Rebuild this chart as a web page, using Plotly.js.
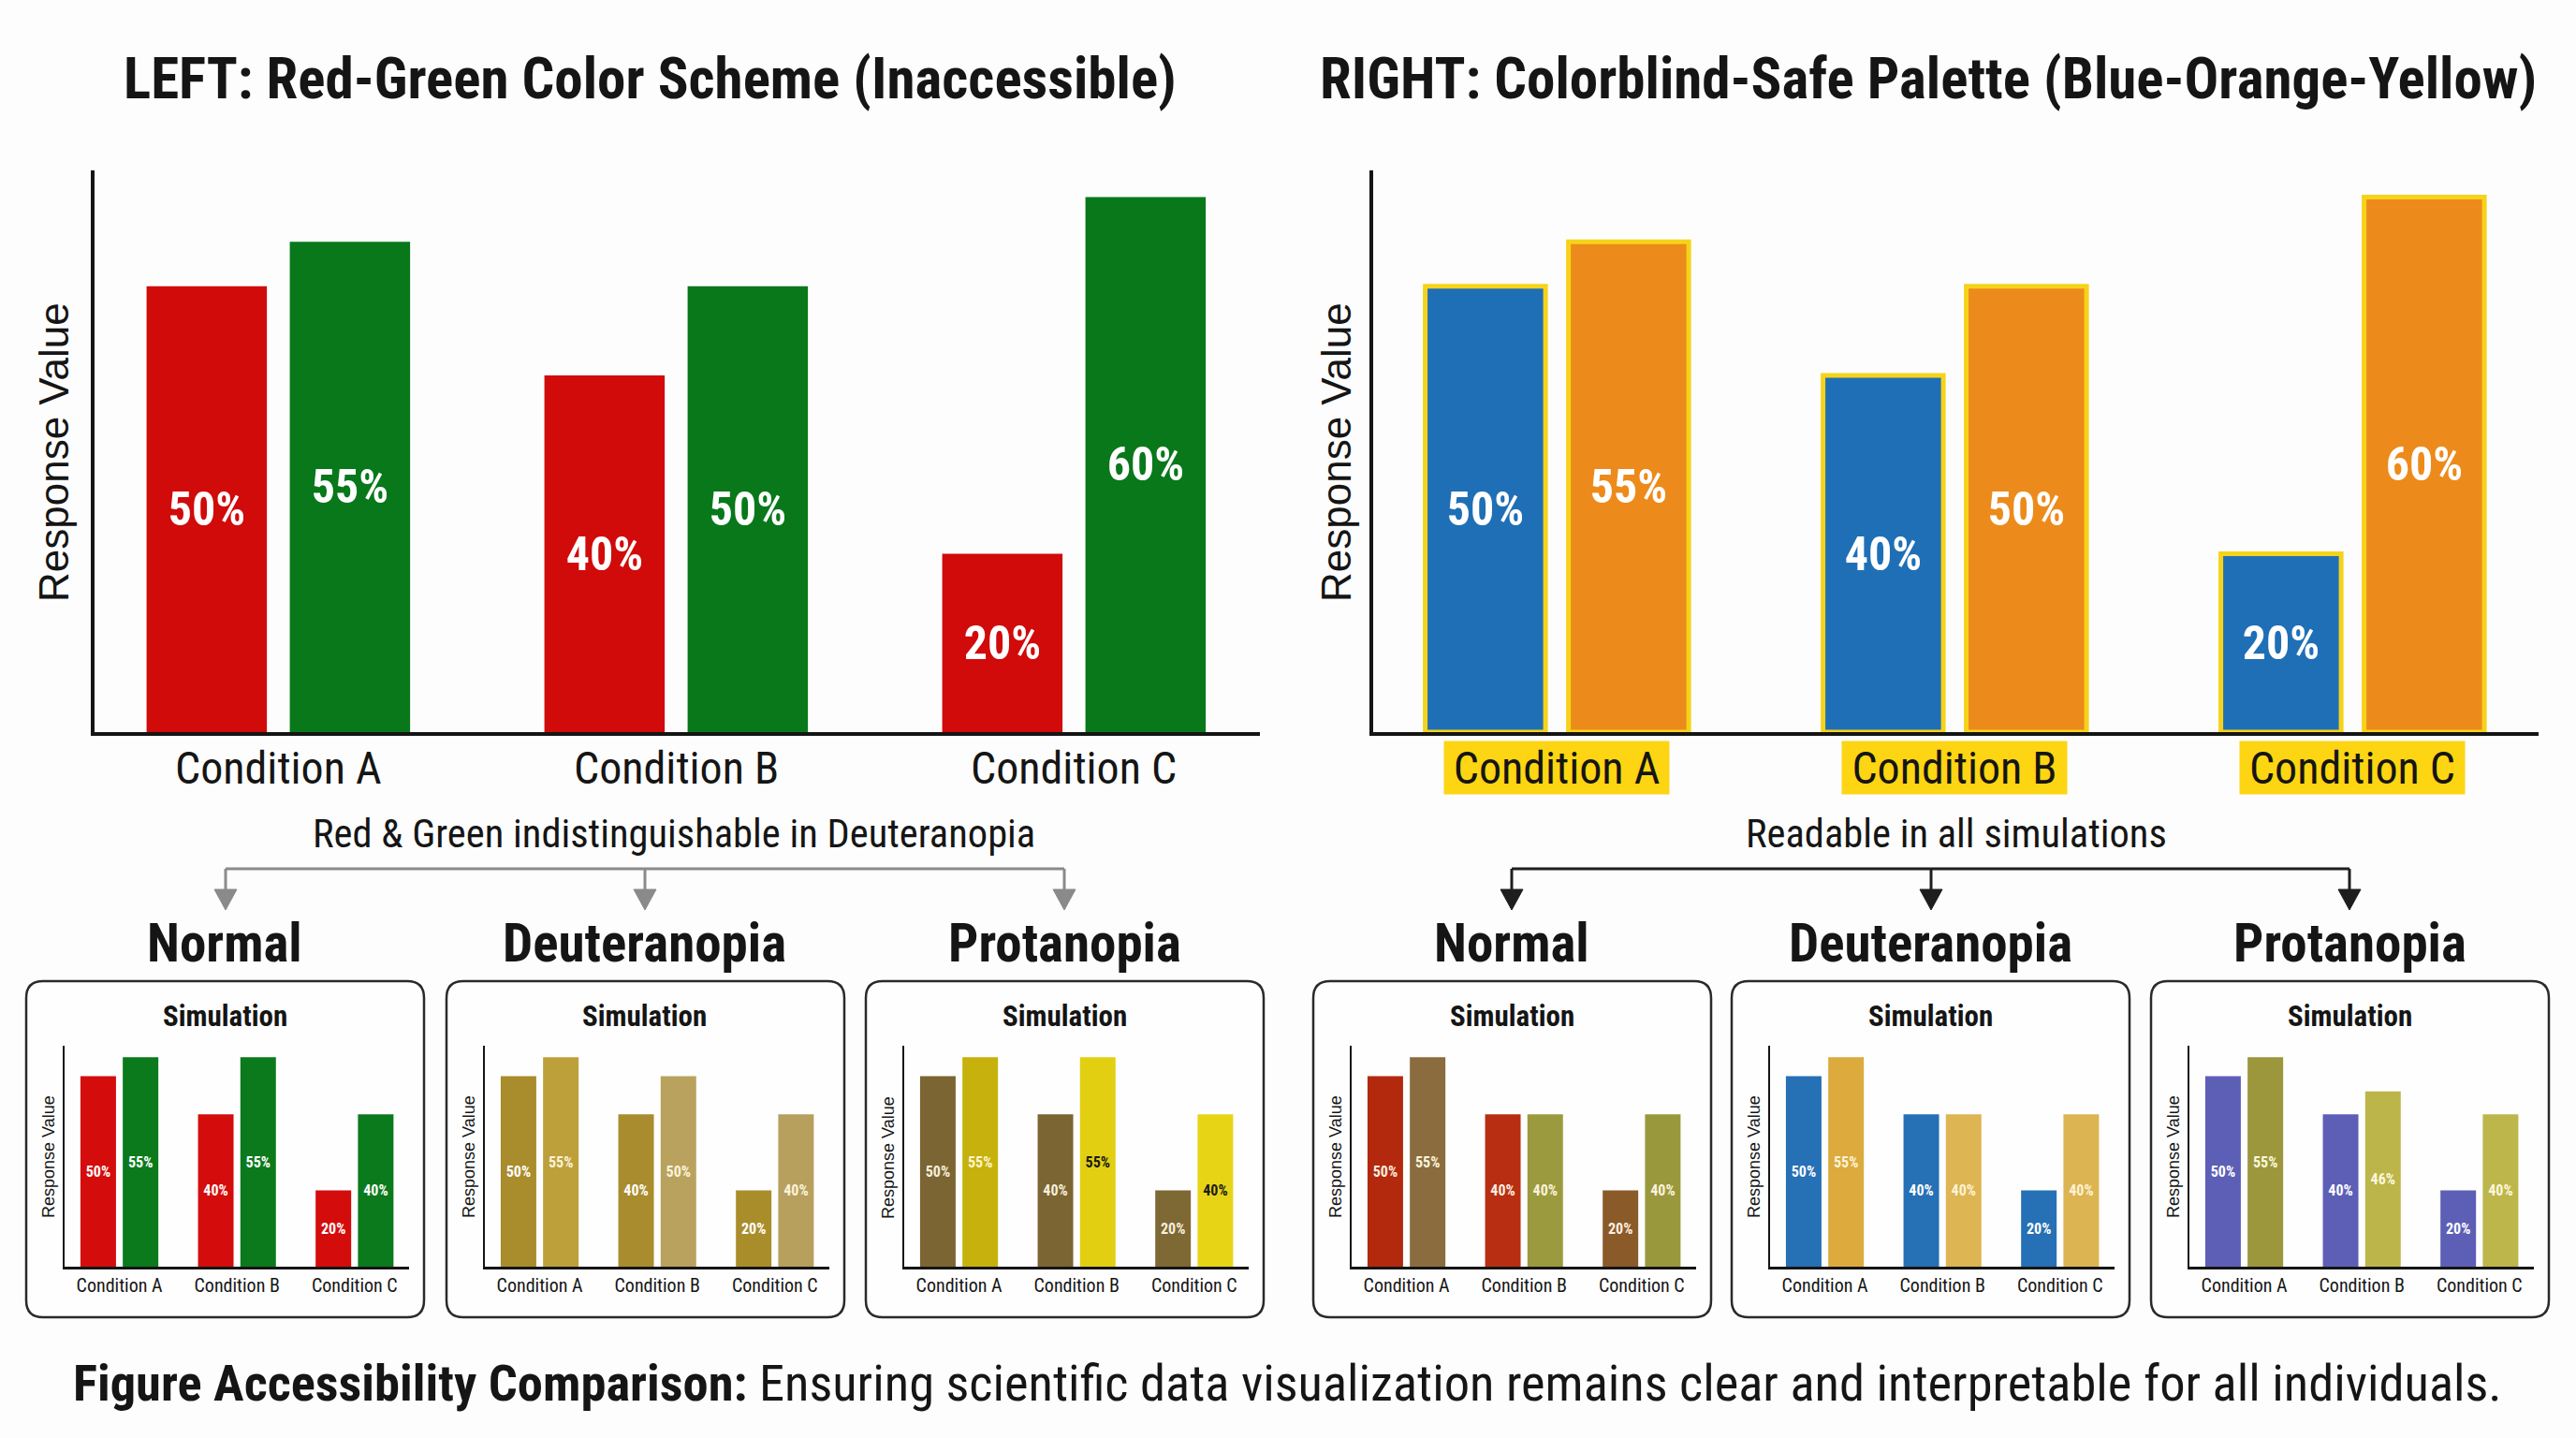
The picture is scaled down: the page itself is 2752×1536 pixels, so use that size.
<!DOCTYPE html>
<html>
<head>
<meta charset="utf-8">
<script src="https://cdn.plot.ly/plotly-3.0.1.min.js"></script>
<style>
  html, body { margin: 0; padding: 0; background: #fdfdfd; }
  #chart { width: 2752px; height: 1536px; }
</style>
</head>
<body>
<div id="chart"></div>
<script>
// ---- data ----
const categories = ['Condition A', 'Condition B', 'Condition C'];

// main charts
const leftRed = [50, 40, 20];
const leftGreen = [55, 50, 60];
const rightBlue = [50, 40, 20];
const rightOrange = [55, 50, 60];

// simulated views, red-green scheme
const simLeftNormal1 = [50, 40, 20];
const simLeftNormal2 = [55, 55, 40];
const simLeftDeut1 = [50, 40, 20];
const simLeftDeut2 = [55, 50, 40];
const simLeftProt1 = [50, 40, 20];
const simLeftProt2 = [55, 55, 40];

// simulated views, blue-orange-yellow scheme
const simRightNormal1 = [50, 40, 20];
const simRightNormal2 = [55, 40, 40];
const simRightDeut1 = [50, 40, 20];
const simRightDeut2 = [55, 40, 40];
const simRightProt1 = [50, 40, 20];
const simRightProt2 = [55, 46, 40];

const panelNames = ['Normal', 'Deuteranopia', 'Protanopia'];

// ---- page geometry (pixels) ----
const W = 2752, H = 1536;
const X = x => x / W;
const Y = y => 1 - y / H;

const COND = 'Roboto Condensed, Liberation Sans Narrow, DejaVu Sans Condensed, Arial Narrow, sans-serif';
const PLAIN = 'Liberation Sans, Arial, Helvetica, sans-serif';
const INK = '#151515';
const WHITE = '#ffffff';

// ---- styles per chart ----
const mainStyle = {
  left: { c1: '#d10a0a', c2: '#08781a', line: null },
  right: { c1: '#1f6fb6', c2: '#ec8b1b', line: '#f6d31a' }
};

const sims = [
  // left group
  { bx: 28, v1: simLeftNormal1, v2: simLeftNormal2,
    c1: '#d40c0c', c2: '#0b7a1c', t1: WHITE, t2: WHITE },
  { bx: 477, v1: simLeftDeut1, v2: simLeftDeut2,
    c1: ['#a98c2b', '#a98c2d', '#aa8d2b'], c2: ['#bea03a', '#b9a25e', '#b7a05d'],
    t1: WHITE, t2: ['#fbf3dc', '#fbf3dc', '#fbf3dc'] },
  { bx: 925, v1: simLeftProt1, v2: simLeftProt2,
    c1: ['#7b6532', '#7b6532', '#7e6834'], c2: ['#c7b10d', '#e3cf12', '#e7d515'],
    t1: '#f6efdc', t2: ['#fff6cf', '#1a1a1a', '#1a1a1a'] },
  // right group
  { bx: 1403, v1: simRightNormal1, v2: simRightNormal2,
    c1: ['#b2290d', '#b82e12', '#8b5a29'], c2: ['#8b6c3e', '#9b9a3e', '#9a983d'],
    t1: '#fbeee0', t2: '#fbf3dc' },
  { bx: 1850, v1: simRightDeut1, v2: simRightDeut2,
    c1: '#2670b5', c2: ['#dcaa3d', '#ddb552', '#dcb552'],
    t1: WHITE, t2: '#fdf3d6' },
  { bx: 2298, v1: simRightProt1, v2: simRightProt2,
    c1: '#5d5fb6', c2: ['#9c973c', '#bcb64a', '#bdb64b'],
    t1: WHITE, t2: '#fdf8dc' }
];

const data = [];
const layout = {
  width: W, height: H,
  margin: { l: 0, r: 0, t: 0, b: 0 },
  paper_bgcolor: '#fdfdfd',
  plot_bgcolor: 'rgba(0,0,0,0)',
  barmode: 'group',
  bargap: 0.28,
  bargroupgap: 0.16,
  showlegend: false,
  annotations: [],
  shapes: []
};

function addAxes(n, x0, x1, yTop, yBottom, ymax, lineW, tickSize, standoff, showTicks, r0) {
  const span = x1 - x0;
  const step = span * 425 / 1245;
  layout['xaxis' + (n === 1 ? '' : n)] = {
    domain: [X(x0), X(x1)],
    anchor: 'y' + (n === 1 ? '' : n),
    range: [r0, r0 + span / step],
    showline: true, linecolor: INK, linewidth: lineW,
    showgrid: false, zeroline: false, ticks: '',
    showticklabels: showTicks,
    ticklabelstandoff: standoff,
    tickfont: { family: COND, size: tickSize, color: INK },
    fixedrange: true
  };
  layout['yaxis' + (n === 1 ? '' : n)] = {
    domain: [Y(yBottom), Y(yTop)],
    anchor: 'x' + (n === 1 ? '' : n),
    range: [0, ymax],
    showline: true, linecolor: INK, linewidth: lineW,
    showgrid: false, zeroline: false, ticks: '',
    showticklabels: false,
    fixedrange: true
  };
}

function addBars(n, values, color, textColor, fontSize, line) {
  const suffix = n === 1 ? '' : String(n);
  data.push({
    type: 'bar',
    x: categories,
    y: values,
    xaxis: 'x' + suffix,
    yaxis: 'y' + suffix,
    marker: {
      color: color,
      line: line ? { color: line, width: 5 } : { width: 0 }
    },
    text: values.map(v => '<b>' + v + '%</b>'),
    textposition: 'inside',
    insidetextanchor: 'middle',
    textangle: 0,
    textfont: { family: COND, size: fontSize, color: textColor },
    hoverinfo: 'skip',
    cliponaxis: false
  });
}

// ---- main charts ----
addAxes(1, 101, 1346, 182, 782, 63, 4, 48, 0, false, -0.462);
addBars(1, leftRed, mainStyle.left.c1, WHITE, 50, null);
addBars(1, leftGreen, mainStyle.left.c2, WHITE, 50, null);

addAxes(2, 1467, 2712, 182, 782, 63, 4, 48, 0, false, -0.462);
addBars(2, rightBlue, mainStyle.right.c1, WHITE, 50, mainStyle.right.line);
addBars(2, rightOrange, mainStyle.right.c2, WHITE, 50, mainStyle.right.line);

// category labels under both main charts; highlighted on the colorblind-safe one
categories.forEach(c => {
  layout.annotations.push({
    xref: 'x', yref: 'paper', x: c, y: Y(820),
    text: c, showarrow: false,
    font: { family: COND, size: 48, color: INK },
    xanchor: 'center', yanchor: 'middle'
  });
  layout.annotations.push({
    xref: 'x2', yref: 'paper', x: c, y: Y(820),
    text: c, showarrow: false,
    font: { family: COND, size: 48, color: INK },
    bgcolor: '#fdd513', borderpad: 5, width: 230, height: 46,
    xanchor: 'center', yanchor: 'middle'
  });
});

// ---- simulation panels ----
sims.forEach((s, k) => {
  const n = k + 3;
  addAxes(n, s.bx + 41, s.bx + 409, 1117, 1353, 58, 2.5, 20, 0, true, -0.466);
  addBars(n, s.v1, s.c1, s.t1, 16, null);
  addBars(n, s.v2, s.c2, s.t2, 16, null);

  const bx0 = s.bx, bx1 = s.bx + 425, by0 = 1048, by1 = 1407, r = 18;
  const p = `M ${X(bx0 + r)},${Y(by0)} L ${X(bx1 - r)},${Y(by0)} Q ${X(bx1)},${Y(by0)} ${X(bx1)},${Y(by0 + r)}` +
            ` L ${X(bx1)},${Y(by1 - r)} Q ${X(bx1)},${Y(by1)} ${X(bx1 - r)},${Y(by1)}` +
            ` L ${X(bx0 + r)},${Y(by1)} Q ${X(bx0)},${Y(by1)} ${X(bx0)},${Y(by1 - r)}` +
            ` L ${X(bx0)},${Y(by0 + r)} Q ${X(bx0)},${Y(by0)} ${X(bx0 + r)},${Y(by0)} Z`;
  layout.shapes.push({ type: 'path', xref: 'paper', yref: 'paper', path: p,
    line: { color: '#2a2a2a', width: 2.5 }, fillcolor: 'rgba(255,255,255,0.6)', layer: 'below' });

  layout.annotations.push({
    xref: 'paper', yref: 'paper', x: X(s.bx + 212), y: Y(1085),
    text: '<b>Simulation</b>', showarrow: false,
    font: { family: COND, size: 31, color: INK }, xanchor: 'center', yanchor: 'middle'
  });
  layout.annotations.push({
    xref: 'paper', yref: 'paper', x: X(s.bx + 24), y: Y(1236),
    text: 'Response Value', showarrow: false, textangle: -90,
    font: { family: PLAIN, size: 18, color: INK }, xanchor: 'center', yanchor: 'middle'
  });
  layout.annotations.push({
    xref: 'paper', yref: 'paper', x: X(s.bx + 212), y: Y(1007),
    text: '<b>' + panelNames[k % 3] + '</b>', showarrow: false,
    font: { family: COND, size: 57, color: INK }, xanchor: 'center', yanchor: 'middle'
  });
});

// ---- connectors from each main chart to its three simulations ----
function connector(xs, color) {
  const yLine = 928, yHead = 950, yTip = 972, hw = 12;
  layout.shapes.push({ type: 'line', xref: 'paper', yref: 'paper',
    x0: X(xs[0]), x1: X(xs[2]), y0: Y(yLine), y1: Y(yLine), line: { color: color, width: 3 } });
  xs.forEach(x => {
    layout.shapes.push({ type: 'line', xref: 'paper', yref: 'paper',
      x0: X(x), x1: X(x), y0: Y(yLine), y1: Y(yHead), line: { color: color, width: 3 } });
    layout.shapes.push({ type: 'path', xref: 'paper', yref: 'paper',
      path: `M ${X(x - hw)},${Y(yHead)} L ${X(x + hw)},${Y(yHead)} L ${X(x)},${Y(yTip)} Z`,
      fillcolor: color, line: { color: color, width: 1 } });
  });
}
connector([241, 689, 1137], '#8a8a8a');
connector([1615, 2063, 2510], '#1e1e1e');

// ---- titles and notes ----
const texts = [
  { x: 694, y: 84, text: '<b>LEFT: Red-Green Color Scheme (Inaccessible)</b>', size: 61, fam: COND },
  { x: 2060, y: 84, text: '<b>RIGHT: Colorblind-Safe Palette (Blue-Orange-Yellow)</b>', size: 61, fam: COND },
  { x: 720, y: 890, text: 'Red &amp; Green indistinguishable in Deuteranopia', size: 42.5, fam: COND },
  { x: 2090, y: 890, text: 'Readable in all simulations', size: 42.5, fam: COND },
  { x: 1375, y: 1477, text: '<b>Figure Accessibility Comparison:</b> Ensuring scientific data visualization remains clear and interpretable for all individuals.', size: 54.5, fam: COND }
];
texts.forEach(t => layout.annotations.push({
  xref: 'paper', yref: 'paper', x: X(t.x), y: Y(t.y), text: t.text, showarrow: false,
  font: { family: t.fam, size: t.size, color: INK }, xanchor: 'center', yanchor: 'middle'
}));

// rotated value-axis titles on the main charts
[57, 1427].forEach(x => layout.annotations.push({
  xref: 'paper', yref: 'paper', x: X(x), y: Y(483), text: 'Response Value', showarrow: false,
  textangle: -90, font: { family: PLAIN, size: 44, color: INK }, xanchor: 'center', yanchor: 'middle'
}));

Plotly.newPlot('chart', data, layout, { staticPlot: true, displayModeBar: false });
</script>
</body>
</html>
